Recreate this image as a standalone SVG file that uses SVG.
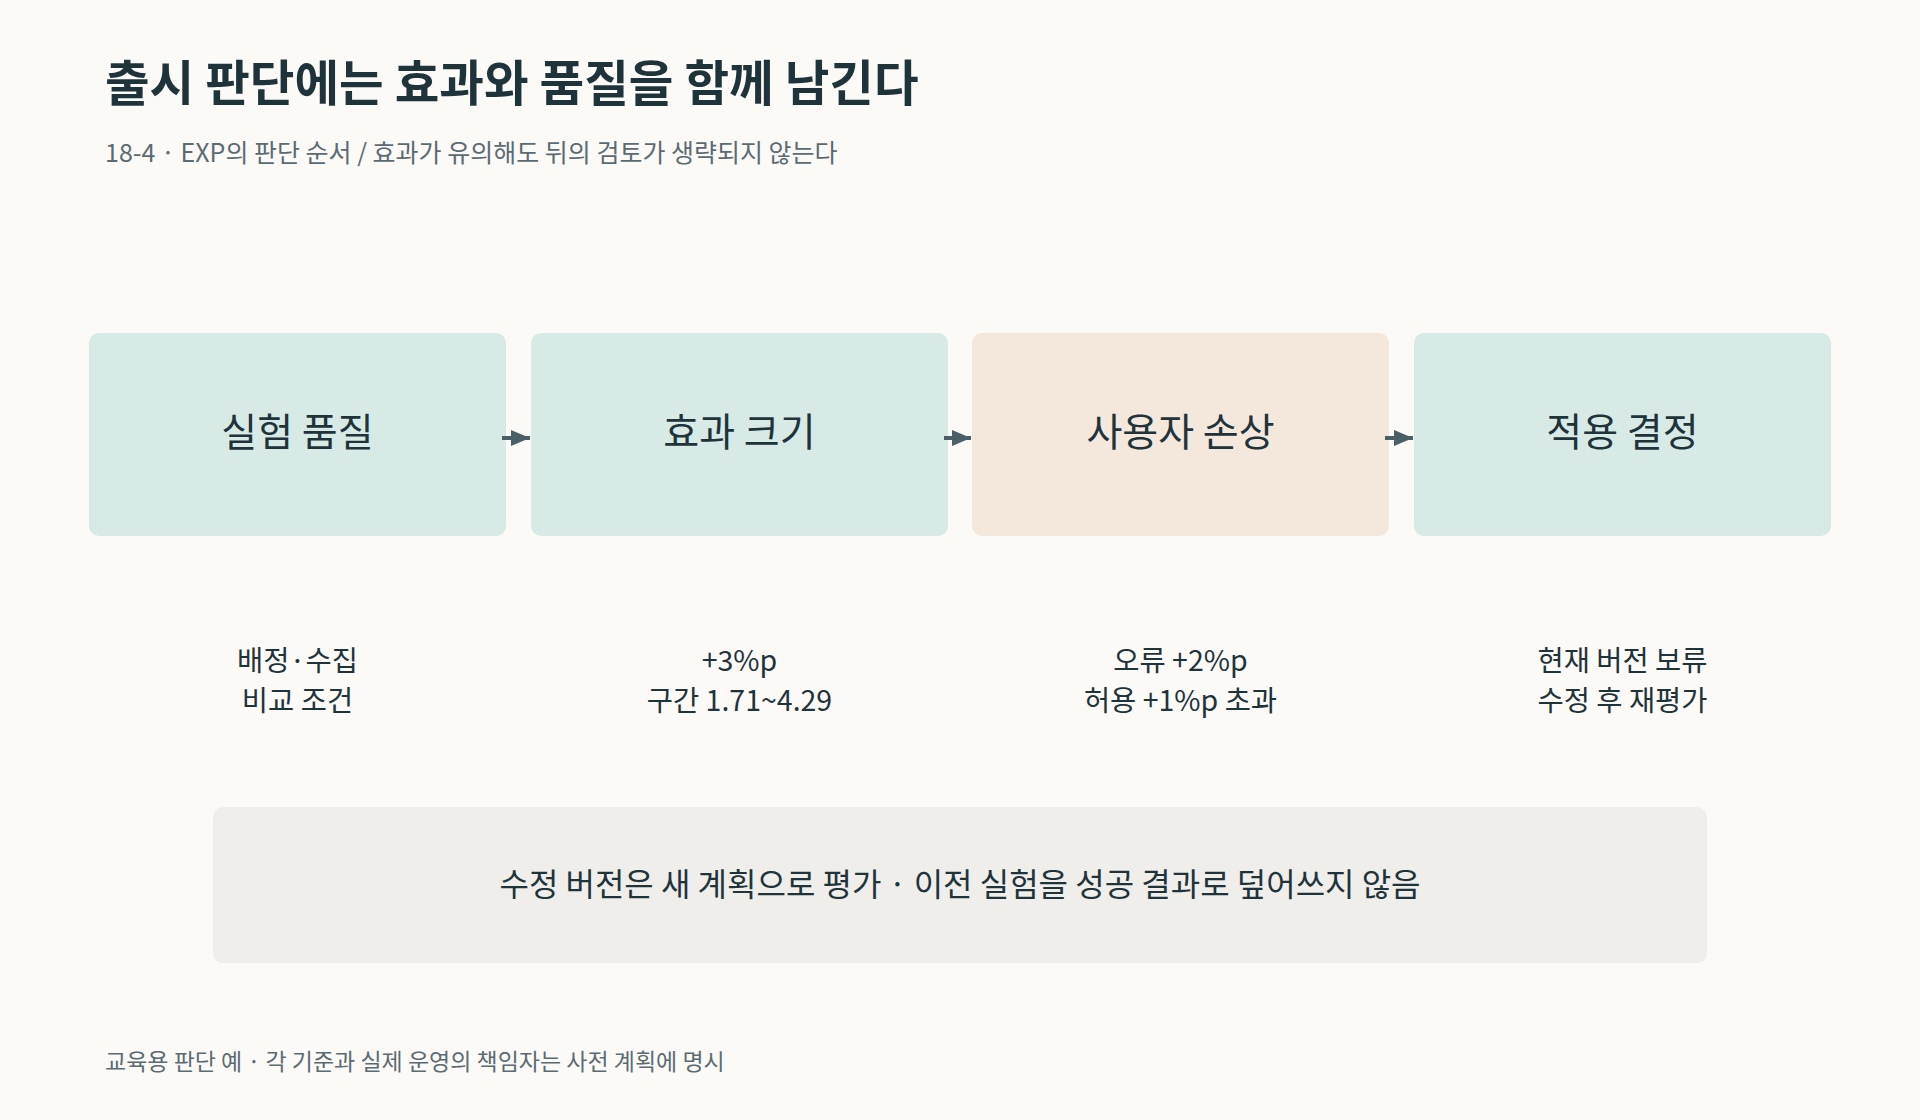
<svg xmlns="http://www.w3.org/2000/svg" width="1920" height="1120" viewBox="0 0 1920 1120">
<defs>
<style>
text{font-family:"Noto Sans CJK KR","Noto Sans",sans-serif;fill:#1f333b}
.title{font-size:48.5px;font-weight:700}
.sub{font-size:25px;fill:#5b6b73}
.node{font-size:39px;text-anchor:middle}
.note{font-size:28.5px;text-anchor:middle}
.banner{font-size:32px;text-anchor:middle}
.foot{font-size:23px;fill:#5b6b73}
.teal{fill:#d7eae5}
.peach{fill:#f4e7dc}
.gray{fill:#efeeea}
.conn{stroke:#4b5f68;stroke-width:4;fill:none}
</style>
<marker id="ah" markerUnits="userSpaceOnUse" markerWidth="20" markerHeight="16" refX="19" refY="8" orient="auto">
<path d="M0,0 L19,8 L0,16 Z" fill="#4b5f68"/>
</marker>
</defs>
<rect width="1920" height="1120" fill="#fbfaf7"/>
<text class="title" x="105" y="101">출시 판단에는 효과와 품질을 함께 남긴다</text>
<text class="sub" x="105" y="162">18-4 · EXP의 판단 순서 / 효과가 유의해도 뒤의 검토가 생략되지 않는다</text>

<g id="node-quality">
<rect class="teal" x="89" y="333" width="417" height="203" rx="10"/>
<text class="node" x="297.5" y="446">실험 품질</text>
</g>
<g id="node-effect">
<rect class="teal" x="531" y="333" width="417" height="203" rx="10"/>
<text class="node" x="739.5" y="446">효과 크기</text>
</g>
<g id="node-harm">
<rect class="peach" x="972" y="333" width="417" height="203" rx="10"/>
<text class="node" x="1180.5" y="446">사용자 손상</text>
</g>
<g id="node-decision">
<rect class="teal" x="1414" y="333" width="417" height="203" rx="10"/>
<text class="node" x="1622.5" y="446">적용 결정</text>
</g>

<g id="connectors">
<line class="conn" x1="502" y1="438" x2="530" y2="438" marker-end="url(#ah)"/>
<line class="conn" x1="944" y1="438" x2="971" y2="438" marker-end="url(#ah)"/>
<line class="conn" x1="1385" y1="438" x2="1413" y2="438" marker-end="url(#ah)"/>
</g>

<g id="notes">
<text class="note" x="297.5" y="671">배정·수집</text>
<text class="note" x="297.5" y="711">비교 조건</text>
<text class="note" x="739.5" y="671">+3%p</text>
<text class="note" x="739.5" y="711">구간 1.71~4.29</text>
<text class="note" x="1180.5" y="671">오류 +2%p</text>
<text class="note" x="1180.5" y="711">허용 +1%p 초과</text>
<text class="note" x="1622.5" y="671">현재 버전 보류</text>
<text class="note" x="1622.5" y="711">수정 후 재평가</text>
</g>

<g id="banner">
<rect class="gray" x="213" y="807" width="1494" height="156" rx="10"/>
<text class="banner" x="960" y="896">수정 버전은 새 계획으로 평가 · 이전 실험을 성공 결과로 덮어쓰지 않음</text>
</g>

<text class="foot" x="105" y="1070">교육용 판단 예 · 각 기준과 실제 운영의 책임자는 사전 계획에 명시</text>
</svg>
